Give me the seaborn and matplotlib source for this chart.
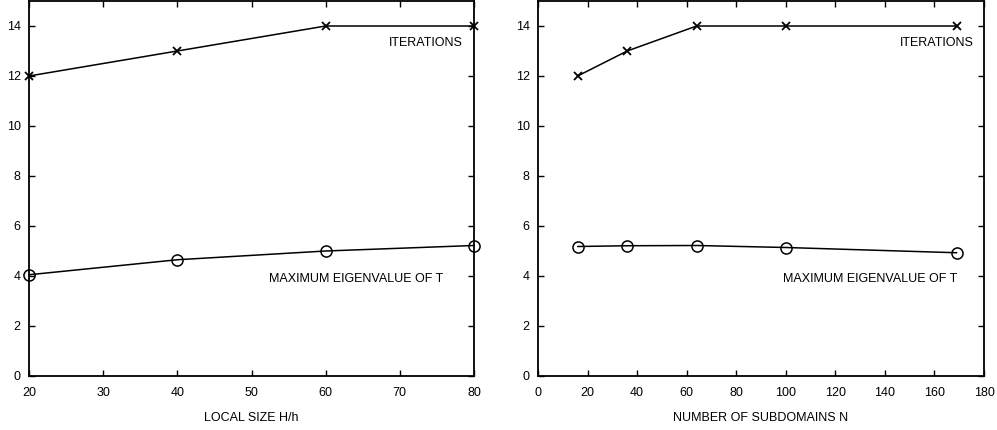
import numpy as np
import pandas as pd
import matplotlib
matplotlib.use("Agg")
from matplotlib import pyplot as plt
import seaborn as sns

# left panel: local size H/h
local_size = [20, 40, 60, 80]
iters_local = [12, 13, 14, 14]
eig_local = [4.05, 4.65, 5.0, 5.22]

# right panel: number of subdomains N
subdomains = [16, 36, 64, 100, 169]
iters_sub = [12, 13, 14, 14, 14]
eig_sub = [5.18, 5.21, 5.22, 5.14, 4.93]

sns.set_style("ticks")
plt.rcParams['font.family'] = ['Liberation Sans', 'DejaVu Sans']
plt.rcParams['font.size'] = 9
plt.rcParams['text.color'] = 'black'
plt.rcParams['axes.labelcolor'] = 'black'

fig = plt.figure(figsize=(9.97, 4.30), dpi=100)
ax1 = fig.add_axes([29/997, 54/430, 445/997, 375/430])
ax2 = fig.add_axes([538/997, 54/430, 446/997, 375/430])


def panel(ax, x, it, eig, xlim, xticks, xlabel, it_lab, eig_lab):
    sns.lineplot(x=x, y=it, ax=ax, color='black', lw=1.1, marker='x',
                 markersize=6, mew=1.3, mec='black', clip_on=False)
    sns.lineplot(x=x, y=eig, ax=ax, color='black', lw=1.1, marker='o',
                 markersize=8, mfc='none', mec='black', mew=1.1, clip_on=False)
    ax.set_xlim(*xlim)
    ax.set_ylim(0, 15)
    ax.set_xticks(xticks)
    ax.set_yticks(range(0, 15, 2))
    ax.tick_params(axis='x', pad=8)
    ax.tick_params(axis='y', pad=6)
    ax.tick_params(direction='in', top=True, right=True, length=4, width=1,
                   labelsize=9, colors='black')
    for s in ax.spines.values():
        s.set_linewidth(1.3)
        s.set_color('black')
    ax.set_xlabel(xlabel, fontsize=9, labelpad=9)
    ax.text(it_lab[0], it_lab[1], 'ITERATIONS', ha='right', va='center', fontsize=9)
    ax.text(eig_lab[0], eig_lab[1], 'MAXIMUM EIGENVALUE OF T', ha='right', va='center', fontsize=9)


panel(ax1, local_size, iters_local, eig_local, (20, 80), range(20, 81, 10),
      'LOCAL SIZE H/h', (78.5, 13.3), (75.8, 3.9))
panel(ax2, subdomains, iters_sub, eig_sub, (0, 180), range(0, 181, 20),
      'NUMBER OF SUBDOMAINS N', (176.0, 13.3), (169.2, 3.9))

fig.savefig('out.png', dpi=100)
